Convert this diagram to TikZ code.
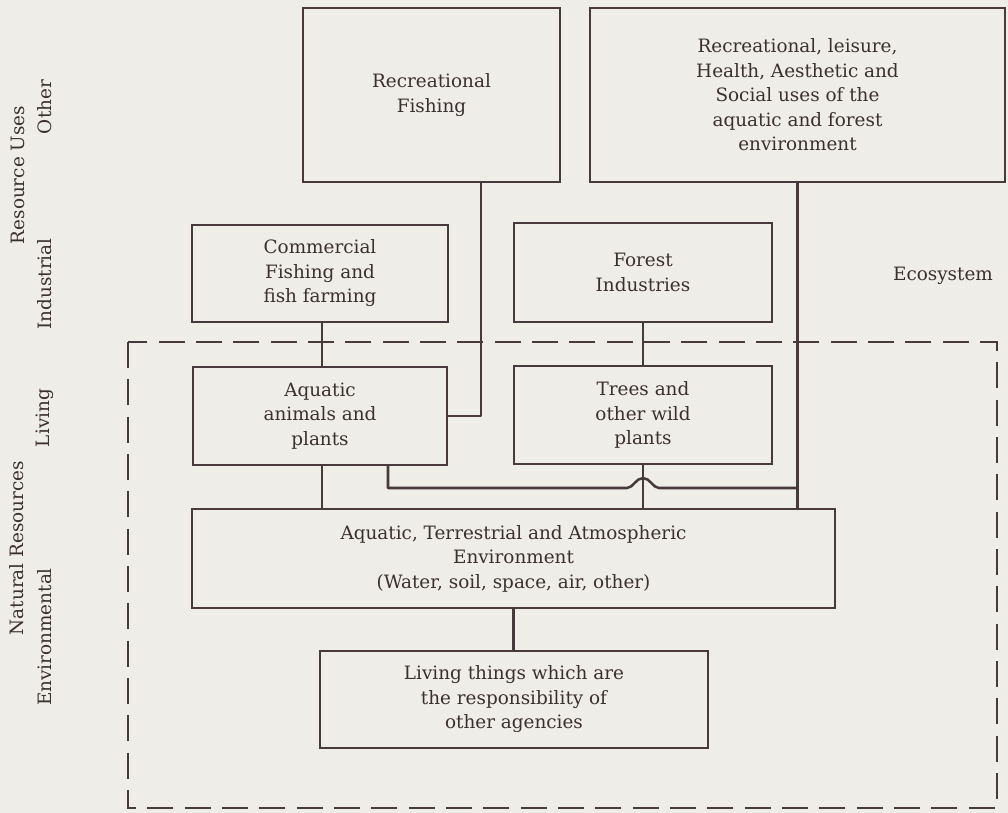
\documentclass[tikz,border=0pt]{standalone}
\usepackage{fontspec}
\setmainfont{DejaVu Serif}
\usetikzlibrary{calc}
\definecolor{ink}{HTML}{463A3C}
\definecolor{inktext}{HTML}{3A3032}
\definecolor{paper}{HTML}{EFEDE8}
\begin{document}
\begin{tikzpicture}[x=0.75pt,y=-0.75pt,
  every node/.style={text=inktext, font=\fontsize{13.8}{18.4}\selectfont},
  box/.style={draw=ink, line width=1.5pt, inner sep=0pt, align=center, rectangle},
  link/.style={draw=ink, line width=1.9pt, line join=round},
  side/.style={rotate=90, inner sep=0pt},
  zone/.style={draw=ink, line width=1.2pt, dash pattern=on 19.5pt off 8.5pt}]
\fill[paper] (0,0) rectangle (1008,813);
\useasboundingbox (0,0) rectangle (1008,813);

% dashed boundary of the natural resources zone
\draw[zone] (128,342) rectangle (997,808);

% resource uses
\node[box, minimum width=192.75pt, minimum height=130.5pt] (recfish) at (431.5,95)
  {Recreational\\Fishing};
\node[box, minimum width=311.25pt, minimum height=130.5pt] (recleis) at (797.5,95)
  {Recreational, leisure,\\Health, Aesthetic and\\Social uses of the\\aquatic and forest\\environment};
\node[box, minimum width=192pt, minimum height=72.75pt] (comfish) at (320,273.5)
  {Commercial\\Fishing and\\fish farming};
\node[box, minimum width=193.5pt, minimum height=74.25pt] (forest) at (643,272.5)
  {Forest\\Industries};
\node (eco) at (943,276) {Ecosystem};

% natural resources
\node[box, minimum width=190.5pt, minimum height=73.5pt] (aquanim) at (320,416)
  {Aquatic\\animals and\\plants};
\node[box, minimum width=193.5pt, minimum height=73.5pt] (trees) at (643,415)
  {Trees and\\other wild\\plants};
\node[box, minimum width=482.25pt, minimum height=74.25pt] (envir) at (513.5,558.5)
  {Aquatic, Terrestrial and Atmospheric\\Environment\\(Water, soil, space, air, other)};
\node[box, minimum width=291pt, minimum height=72.75pt] (living) at (514,699.5)
  {Living things which are\\the responsibility of\\other agencies};

% side labels
\node[side] (other) at (45,107) {Other};
\node[side] (resuses) at (18,175) {Resource Uses};
\node[side] (industrial) at (45,284) {Industrial};
\node[side] (livinglbl) at (45,418) {Living};
\node[side] (natres) at (17,548) {Natural Resources};
\node[side] (envlbl) at (45,637) {Environmental};

% connectors
\draw[link] ($(recfish.south)+(49.5,0)$) |- (aquanim.east);
\draw[link] ($(comfish.south)+(2,0)$) -- ($(aquanim.north)+(2,0)$);
\draw[link] (forest.south) -- (trees.north);
\draw[link] ($(aquanim.south)+(2,0)$) -- ($(aquanim.south |- envir.north)+(2,0)$);
\draw[link] (trees.south) -- (trees.south |- envir.north);
\draw[link] (recleis.south) -- (recleis.south |- envir.north);
\draw[link] (envir.south) -- (envir.south |- living.north);

% branch from the aquatic animals to the ecosystem line, hopping over the trees line
\coordinate (bend) at ($(aquanim.south)+(68,0)$);
\coordinate (hopL) at (627,488);
\coordinate (hopR) at (659,488);
\coordinate (ecoJ) at (recleis.south |- hopL);
\draw[link] (bend) |- (hopL)
  .. controls +(6,0) and +(-7,0) .. ($(hopL)!0.5!(hopR)+(0,-10)$)
  .. controls +(7,0) and +(-6,0) .. (hopR) -- (ecoJ);
\end{tikzpicture}
\end{document}
